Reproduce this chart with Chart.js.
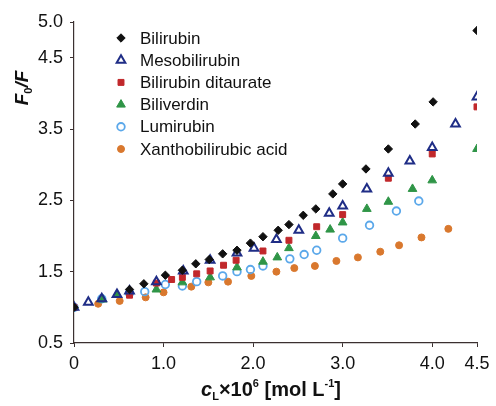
<!DOCTYPE html>
<html>
<head>
<meta charset="utf-8">
<script src="https://cdn.jsdelivr.net/npm/chart.js@4.4.1/dist/chart.umd.min.js"></script>
<style>
  html, body { margin: 0; padding: 0; background: #fff; }
  #wrap { width: 496px; height: 406px; }
</style>
</head>
<body>
<div id="wrap"><canvas id="quenchChart"></canvas></div>
<script>
// data
const seriesNames = ["Bilirubin", "Mesobilirubin", "Bilirubin ditaurate", "Biliverdin", "Lumirubin", "Xanthobilirubic acid"];

const bilirubinX = [0, 0.62, 0.78, 1.02, 1.21, 1.36, 1.51, 1.66, 1.82, 1.97, 2.11, 2.28, 2.40, 2.56, 2.70, 2.89, 3.00, 3.26, 3.51, 3.81, 4.01, 4.50];
const bilirubinY = [1.00, 1.25, 1.33, 1.45, 1.52, 1.61, 1.67, 1.75, 1.80, 1.90, 1.99, 2.08, 2.16, 2.29, 2.38, 2.59, 2.73, 2.94, 3.22, 3.57, 3.88, 4.88];

const mesoX = [0, 0.16, 0.31, 0.48, 0.62, 0.92, 1.22, 1.52, 1.82, 2.01, 2.26, 2.51, 2.85, 3.00, 3.27, 3.51, 3.75, 4.00, 4.26, 4.50];
const mesoY = [1.00, 1.07, 1.12, 1.18, 1.23, 1.36, 1.51, 1.66, 1.76, 1.83, 1.95, 2.08, 2.32, 2.42, 2.66, 2.88, 3.05, 3.24, 3.57, 3.95];

const ditaurateX = [0, 0.62, 0.92, 1.09, 1.21, 1.37, 1.52, 1.67, 1.81, 2.11, 2.40, 2.71, 3.00, 3.51, 4.00, 4.50];
const ditaurateY = [1.00, 1.17, 1.34, 1.39, 1.42, 1.47, 1.51, 1.59, 1.66, 1.79, 1.94, 2.13, 2.30, 2.81, 3.15, 3.81];

const biliverdinX = [0, 0.32, 0.48, 0.92, 1.21, 1.52, 1.82, 2.11, 2.27, 2.40, 2.70, 2.86, 3.00, 3.27, 3.51, 3.78, 4.00, 4.50];
const biliverdinY = [1.00, 1.11, 1.18, 1.25, 1.35, 1.42, 1.56, 1.64, 1.70, 1.83, 2.00, 2.09, 2.19, 2.38, 2.48, 2.66, 2.78, 3.22];

const lumirubinX = [0, 0.31, 0.62, 0.79, 1.02, 1.21, 1.37, 1.66, 1.82, 1.97, 2.11, 2.41, 2.57, 2.71, 3.00, 3.30, 3.60, 3.85];
const lumirubinY = [1.00, 1.12, 1.20, 1.22, 1.32, 1.30, 1.36, 1.44, 1.50, 1.53, 1.58, 1.68, 1.74, 1.80, 1.97, 2.15, 2.35, 2.49];

const xanthoX = [0, 0.27, 0.51, 0.80, 1.00, 1.31, 1.50, 1.72, 1.98, 2.26, 2.46, 2.69, 2.93, 3.17, 3.42, 3.63, 3.88, 4.18];
const xanthoY = [1.00, 1.05, 1.09, 1.14, 1.21, 1.29, 1.35, 1.36, 1.44, 1.50, 1.55, 1.58, 1.65, 1.70, 1.78, 1.87, 1.98, 2.10];

const xTicks = [0, 1.0, 2.0, 3.0, 4.0, 4.5];
const yTicks = [0.5, 1.5, 2.5, 3.5, 4.5, 5.0];

const pts = (xs, ys) => xs.map((x, i) => ({ x: x, y: ys[i] }));

const FONT = "'Liberation Sans', Arial, sans-serif";
const AXIS = "#3b3030";

// legend drawn inside the plot, top-left
const innerLegend = {
  id: "innerLegend",
  afterDatasetsDraw(chart) {
    const ctx = chart.ctx;
    const x0 = 121, y0 = 38, step = 22.2;
    ctx.save();
    chart.data.datasets.forEach((ds, i) => {
      const y = y0 + i * step;
      ctx.strokeStyle = ds.borderColor;
      ctx.fillStyle = ds.backgroundColor;
      ctx.lineWidth = ds.borderWidth;
      Chart.helpers.drawPoint(ctx, { pointStyle: ds.pointStyle, radius: ds.pointRadius, borderWidth: ds.borderWidth }, x0, y);
      ctx.fillStyle = "#111";
      ctx.font = "17px " + FONT;
      ctx.textBaseline = "middle";
      ctx.textAlign = "left";
      ctx.fillText(ds.label, 140, y + 1);
    });
    ctx.restore();
  }
};

// axis titles with sub/superscripts
const axisTitles = {
  id: "axisTitles",
  afterDraw(chart) {
    const ctx = chart.ctx;
    ctx.save();
    ctx.fillStyle = "#111";
    ctx.textBaseline = "alphabetic";
    ctx.textAlign = "left";

    // x title: cL×10^6 [mol L^-1]
    const parts = [
      { t: "c", f: "italic bold 20px", dy: 0 },
      { t: "L", f: "bold 11px", dy: 4 },
      { t: "×10", f: "bold 20px", dy: 0 },
      { t: "6", f: "bold 11px", dy: -9 },
      { t: " [mol L", f: "bold 20px", dy: 0 },
      { t: "-1", f: "bold 11px", dy: -9 },
      { t: "]", f: "bold 20px", dy: 0 }
    ];
    let w = 0;
    parts.forEach(p => { ctx.font = p.f + " " + FONT; w += ctx.measureText(p.t).width; });
    let x = 271 - w / 2;
    const base = 396;
    parts.forEach(p => {
      ctx.font = p.f + " " + FONT;
      ctx.fillText(p.t, x, base + p.dy);
      x += ctx.measureText(p.t).width;
    });

    // y title: F0/F, rotated
    ctx.translate(28, 88);
    ctx.rotate(-Math.PI / 2);
    const yp = [
      { t: "F", f: "italic bold 19px", dy: 0 },
      { t: "0", f: "bold 11px", dy: 4 },
      { t: "/F", f: "italic bold 19px", dy: 0 }
    ];
    w = 0;
    yp.forEach(p => { ctx.font = p.f + " " + FONT; w += ctx.measureText(p.t).width; });
    x = -w / 2;
    yp.forEach(p => {
      ctx.font = p.f + " " + FONT;
      ctx.fillText(p.t, x, 0 + p.dy);
      x += ctx.measureText(p.t).width;
    });
    ctx.restore();
  }
};

const ds = (label, xs, ys, style, radius, border, fill, bw) => ({
  label: label,
  data: pts(xs, ys),
  pointStyle: style,
  pointRadius: radius,
  pointHoverRadius: radius,
  borderColor: border,
  backgroundColor: fill,
  borderWidth: bw,
  showLine: false
});

new Chart(document.getElementById("quenchChart"), {
  type: "scatter",
  data: {
    datasets: [
      ds(seriesNames[0], bilirubinX, bilirubinY, "rectRot", 4.2, "#111111", "#111111", 1),
      ds(seriesNames[1], mesoX, mesoY, "triangle", 5, "#1f2d86", "rgba(255,255,255,0)", 2),
      ds(seriesNames[2], ditaurateX, ditaurateY, "rect", 4.2, "#c1282b", "#c1282b", 1),
      ds(seriesNames[3], biliverdinX, biliverdinY, "triangle", 5, "#2f9547", "#2f9547", 1),
      ds(seriesNames[4], lumirubinX, lumirubinY, "circle", 3.8, "#5ba8ea", "rgba(255,255,255,0)", 1.8),
      ds(seriesNames[5], xanthoX, xanthoY, "circle", 3.5, "#d9782e", "#d9782e", 1)
    ]
  },
  options: {
    responsive: true,
    maintainAspectRatio: false,
    animation: false,
    layout: { padding: { top: 22, right: 19, left: 0, bottom: 0 } },
    plugins: {
      legend: { display: false },
      tooltip: { enabled: false }
    },
    scales: {
      x: {
        type: "linear",
        min: 0,
        max: 4.5,
        afterBuildTicks: s => { s.ticks = xTicks.map(v => ({ value: v })); },
        afterFit: s => { s.height = 63; },
        border: { color: AXIS, width: 1.2 },
        grid: { drawOnChartArea: false, drawTicks: true, tickLength: 4, color: AXIS },
        ticks: {
          color: "#111",
          padding: 6,
          maxRotation: 0,
          font: { family: FONT, size: 18 },
          callback: v => (v === 0 ? "0" : v.toFixed(1))
        }
      },
      y: {
        type: "linear",
        min: 0.5,
        max: 5.0,
        afterBuildTicks: s => { s.ticks = yTicks.map(v => ({ value: v })); },
        afterFit: s => { s.width = 74; },
        border: { color: AXIS, width: 1.2 },
        grid: { drawOnChartArea: false, drawTicks: true, tickLength: 4, color: AXIS },
        ticks: {
          color: "#111",
          padding: 7,
          font: { family: FONT, size: 18 },
          callback: v => v.toFixed(1)
        }
      }
    }
  },
  plugins: [innerLegend, axisTitles]
});
</script>
</body>
</html>
